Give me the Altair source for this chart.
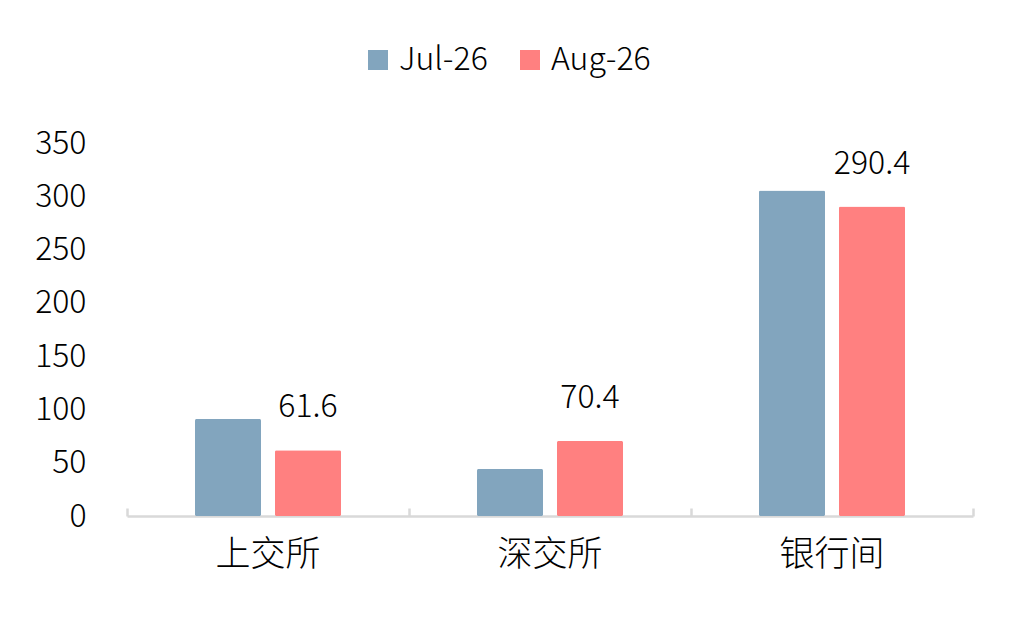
import altair as alt
import pandas as pd

categories = ["上交所", "深交所", "银行间"]
series_names = ["Jul-26", "Aug-26"]
jul_values = [91.0, 44.0, 305.5]
aug_values = [61.6, 70.4, 290.4]
colors = ["#82A5BE", "#FF8080"]

rows = []
for c, j, a in zip(categories, jul_values, aug_values):
    rows.append({"cat": c, "series": series_names[0], "value": j})
    rows.append({"cat": c, "series": series_names[1], "value": a})
df = pd.DataFrame(rows)

FONT = "Noto Sans CJK SC"
WEIGHT = 300

x_main = alt.X(
    "cat:N",
    sort=categories,
    title=None,
    scale=alt.Scale(paddingInner=0, paddingOuter=0),
    axis=alt.Axis(
        orient="bottom",
        labelAngle=0,
        labelFont=FONT,
        labelFontSize=35,
        labelFontWeight=WEIGHT,
        labelColor="#000000",
        labelPadding=21,
        labelBaseline="top",
        ticks=False,
        tickSize=0,
        domainColor="#D9D9D9",
        domainWidth=2.5,
        grid=False,
    ),
)

x_ticks = alt.X(
    "cat:N",
    sort=categories,
    title=None,
    scale=alt.Scale(paddingInner=0, paddingOuter=0),
    axis=alt.Axis(
        orient="bottom",
        labels=False,
        domain=False,
        ticks=True,
        tickBand="extent",
        tickSize=8,
        tickColor="#D9D9D9",
        tickWidth=2.5,
        offset=-8,
        grid=False,
    ),
)

y_enc = alt.Y(
    "value:Q",
    title=None,
    scale=alt.Scale(domain=[0, 350], nice=False),
    axis=alt.Axis(
        orient="left",
        values=[0, 50, 100, 150, 200, 250, 300, 350],
        labelFont=FONT,
        labelFontSize=32,
        labelFontWeight=WEIGHT,
        labelColor="#000000",
        labelPadding=41,
        ticks=False,
        tickSize=0,
        domain=False,
        grid=False,
    ),
)

xoff = alt.XOffset(
    "series:N",
    sort=series_names,
    scale=alt.Scale(domain=series_names, paddingInner=0.175, paddingOuter=0.85),
)

color_enc = alt.Color(
    "series:N",
    sort=series_names,
    scale=alt.Scale(domain=series_names, range=colors),
    legend=alt.Legend(
        title=None,
        orient="none",
        legendX=235,
        legendY=-99,
        direction="horizontal",
        symbolType="square",
        symbolSize=400,
        symbolStrokeWidth=0,
        symbolOpacity=1,
        labelFont=FONT,
        labelFontSize=32,
        labelFontWeight=WEIGHT,
        labelColor="#000000",
        labelOffset=5,
        columnPadding=26,
        padding=0,
    ),
)

bars = alt.Chart(df).mark_bar(cornerRadius=1.5).encode(
    x=x_main,
    y=y_enc,
    xOffset=xoff,
    color=color_enc,
)

labels = alt.Chart(df).transform_filter(
    alt.datum.series == series_names[1]
).mark_text(
    font=FONT, fontSize=32, fontWeight=WEIGHT, color="#000000",
    baseline="alphabetic", dy=-33
).encode(
    x=x_ticks,
    y=y_enc,
    xOffset=xoff,
    text=alt.Text("value:Q", format=".1f"),
)

chart = alt.layer(bars, labels).resolve_axis(x="independent").properties(
    width=846,
    height=373,
    autosize=alt.AutoSizeParams(type="none"),
    padding={"left": 119, "top": 135, "right": 10, "bottom": 100},
    background="#FFFFFF",
).configure_view(stroke=None)

chart.save("out.html", embed_options={"renderer": "svg", "actions": False})
